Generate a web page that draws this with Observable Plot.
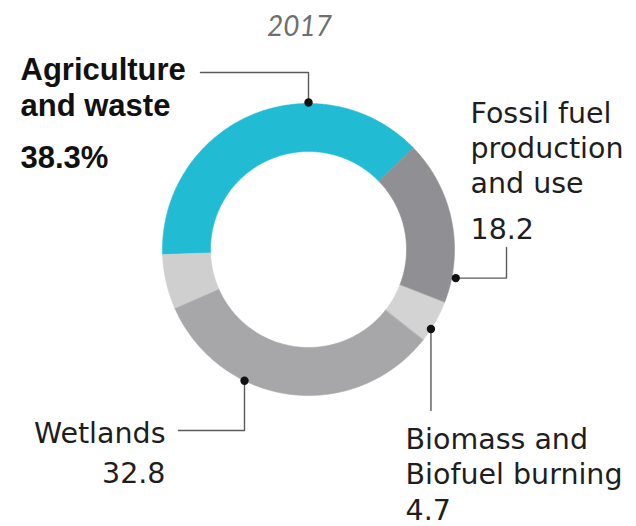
<!DOCTYPE html>
<html><head><meta charset="utf-8">
<script src="https://cdn.jsdelivr.net/npm/d3@7"></script>
<script src="https://cdn.jsdelivr.net/npm/@observablehq/plot@0.6"></script>
<style>html,body{margin:0;padding:0;background:#fff}</style>
</head><body><div id="chart"></div>
<script>
// ---- data ----
const year = "2017";
const categories = ["Agriculture and waste", "Fossil fuel production and use", "Biomass and Biofuel burning", "Wetlands", "Other"];
const shares = [38.3, 18.2, 4.7, 32.8, 6.0];
const valueLabels = ["38.3%", "18.2", "4.7", "32.8", ""];

// ---- styling / layout ----
const colors = ["#21bcd3", "#909094", "#d3d3d4", "#a7a7aa", "#cfcfd0"];
const FONT = "'DejaVu Sans', sans-serif";
const FONT_BOLD = "'Liberation Sans', Arial, sans-serif";
const W = 636, H = 526, CX = 308, CY = 249;
const Ro = 146, Ri = 98;
const startAngle = -92 * Math.PI / 180;

const pie = d3.pie().sort(null).value(d => d.v).startAngle(startAngle).endAngle(startAngle + 2 * Math.PI);
const slices = pie(categories.map((c, i) => ({c, v: shares[i]})));

const pol = (rad, a) => ({x: rad * Math.sin(a), y: -rad * Math.cos(a)});
const ring = [];
slices.forEach(s => {
  const n = Math.max(4, Math.ceil((s.endAngle - s.startAngle) / 0.01));
  for (let k = 0; k <= n; k++) ring.push({key: s.data.c, ...pol(Ro, s.startAngle + (s.endAngle - s.startAngle) * k / n)});
  for (let k = n; k >= 0; k--) ring.push({key: s.data.c, ...pol(Ri, s.startAngle + (s.endAngle - s.startAngle) * k / n)});
});

// leader anchors (degrees clockwise from top) and elbows
const deg = Math.PI / 180;
const leaderSpec = [
  {key: categories[0], a: 0,   rr: Ro + 1, pts: p => [p, {x: p.x, y: -177}, {x: -108, y: -177}]},
  {key: categories[1], a: 101, rr: Ro + 4, pts: p => [p, {x: 198, y: p.y}, {x: 198, y: -2}]},
  {key: categories[2], a: 123, rr: Ro,     pts: p => [p, {x: p.x, y: 161}]},
  {key: categories[3], a: 206, rr: Ro,     pts: p => [p, {x: p.x, y: 181}, {x: -130, y: 181}]}
];
const dots = leaderSpec.map(l => ({key: l.key, ...pol(l.rr, l.a * deg)}));
const leaders = leaderSpec.flatMap((l, i) => l.pts(dots[i]).map(p => ({key: l.key, ...p})));

// label blocks: text, position of last baseline, anchor, line spacing (px)
const REG = 28.5, BOLD = 31;
const labels = [
  {t: "Agriculture\nand waste", x: -288, y: -134, anchor: "start", weight: 700, sp: 36},
  {t: valueLabels[0], x: -288, y: -82, anchor: "start", weight: 700, sp: 36},
  {t: "Fossil fuel\nproduction\nand use", x: 162, y: -57, anchor: "start", sp: 35},
  {t: valueLabels[1], x: 162, y: -11, anchor: "start", sp: 35},
  {t: "Wetlands\n" + valueLabels[3], x: -143, y: 233, anchor: "end", sp: 40},
  {t: "Biomass and\nBiofuel burning\n" + valueLabels[2], x: 97, y: 270, anchor: "start", sp: 35.5}
].map(d => ({weight: 400, ...d}));

const labelMarks = d3.groups(labels, d => d.anchor + "|" + d.weight + "|" + d.sp).map(([, g]) => {
  const bold = g[0].weight === 700;
  const size = bold ? BOLD : REG;
  return Plot.text(g, {x: "x", y: "y", text: "t", textAnchor: g[0].anchor, lineAnchor: "bottom",
    lineHeight: g[0].sp / size, fontSize: size, fontWeight: g[0].weight,
    fill: bold ? "#111" : "#1e1e1e", fontFamily: bold ? FONT_BOLD : FONT});
});

const chart = Plot.plot({
  width: W, height: H,
  margin: 0,
  x: {domain: [-CX, W - CX], range: [0, W], axis: null},
  y: {domain: [-CY, H - CY], range: [0, H], axis: null},
  color: {domain: categories, range: colors},
  style: {background: "#fff", fontFamily: FONT},
  marks: [
    Plot.line(ring, {x: "x", y: "y", z: "key", fill: "key", stroke: "key", strokeWidth: 0.6, curve: "linear-closed"}),
    Plot.line(leaders, {x: "x", y: "y", z: "key", stroke: "#5a5a5a", strokeWidth: 1.4}),
    Plot.dot(dots, {x: "x", y: "y", r: 4.2, fill: "#111", stroke: "none"}),
    Plot.text([year], {x: () => -9, y: () => -214, text: d => d, textAnchor: "middle", lineAnchor: "bottom",
      fontSize: 28, fontStyle: "italic", fill: "#6f6f6f", fontFamily: "Lato, sans-serif"}),
    ...labelMarks
  ]
});
document.getElementById("chart").appendChild(chart);
</script>
</body></html>
